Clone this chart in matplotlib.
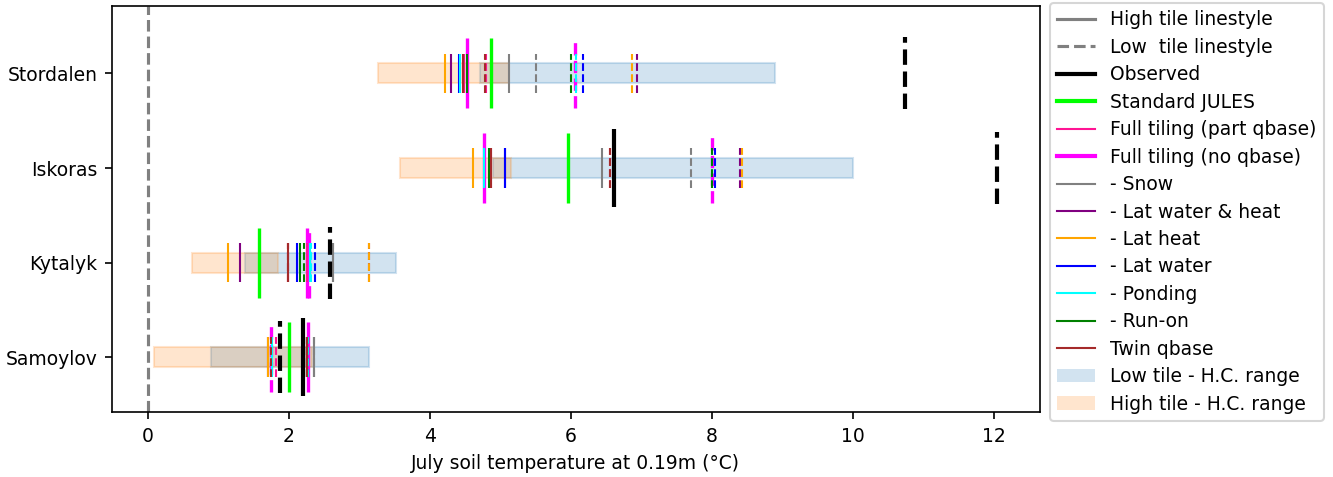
'''
July soil temperature at 0.19m: observed vs JULES tiling experiments,
high tile (solid) and low tile (dashed) per site.
'''

import numpy as np
import matplotlib.pyplot as plt
from matplotlib.lines import Line2D
from matplotlib.patches import Patch

nan = np.nan

# sites, bottom to top
sites = ['Samoylov', 'Kytalyk', 'Iskoras', 'Stordalen']

# hydraulic-conductivity ranges (min, max) per site
low_range_min = [0.89, 1.38, 4.89, 4.71]
low_range_max = [3.14, 3.52, 10.00, 8.89]
high_range_min = [0.09, 0.62, 3.57, 3.27]
high_range_max = [2.33, 1.85, 5.15, 5.12]

observed_high = [2.20, nan, 6.61, nan]
observed_low = [1.88, 2.58, 12.04, 10.74]

standard_jules = [2.00, 1.57, 5.96, 4.87]

no_qbase_high = [2.27, 2.26, 4.77, 4.52]
no_qbase_low = [1.75, 2.29, 8.00, 6.06]

part_qbase_high = [2.26, 2.25, 4.86, 4.49]
part_qbase_low = [1.82, 1.99, 6.56, 4.79]

snow_high = [2.36, 2.62, 6.44, 5.12]
snow_low = [2.36, 2.62, 7.70, 5.50]

lat_wh_high = [1.70, 1.30, 5.06, 4.30]
lat_wh_low = [2.25, 3.14, 8.40, 6.94]

lat_heat_high = [1.70, 1.14, 4.61, 4.21]
lat_heat_low = [2.25, 3.14, 8.42, 6.87]

lat_water_high = [2.25, 2.11, 5.06, 4.41]
lat_water_low = [2.27, 2.37, 8.05, 6.17]

ponding_high = [1.76, 2.30, 4.77, 4.43]
ponding_low = [2.27, 2.31, 8.00, 6.07]

runon_high = [2.26, 2.16, 4.84, 4.53]
runon_low = [2.25, 2.21, 8.00, 6.00]

twin_high = [2.25, 1.98, 4.86, 4.47]
twin_low = [1.75, 1.99, 6.55, 4.78]


def draw_marks(ax, y, vals, half, color, ls, lw):
    vals = np.array(vals, dtype=float)
    ok = ~np.isnan(vals)
    ax.vlines(vals[ok], y[ok] - half, y[ok] + half, colors=color,
              linestyles=ls, linewidth=lw)


def main():
    plt.rcParams['font.size'] = 9
    fig = plt.figure(figsize=(1333 / 150, 477 / 150), dpi=150)
    ax = fig.add_axes([0.084, 0.136, 0.696, 0.851])

    y = np.arange(len(sites), dtype=float)

    # H.C. range bands
    ax.barh(y, np.subtract(low_range_max, low_range_min), left=low_range_min,
            height=0.21, color='tab:blue', edgecolor='tab:blue', alpha=0.2, lw=1)
    ax.barh(y, np.subtract(high_range_max, high_range_min), left=high_range_min,
            height=0.21, color='tab:orange', edgecolor='tab:orange', alpha=0.2, lw=1)

    ax.axvline(0, color='gray', ls='--', lw=1.5)

    thick = 0.37
    thin = 0.21

    draw_marks(ax, y, standard_jules, thick, 'lime', '-', 1.6)
    draw_marks(ax, y, no_qbase_high, thick, 'magenta', '-', 1.6)
    draw_marks(ax, y, no_qbase_low, thick, 'magenta', '--', 1.6)

    thin_models = [
        (part_qbase_high, part_qbase_low, 'deeppink'),
        (snow_high, snow_low, 'gray'),
        (lat_wh_high, lat_wh_low, 'purple'),
        (lat_heat_high, lat_heat_low, 'orange'),
        (lat_water_high, lat_water_low, 'blue'),
        (ponding_high, ponding_low, 'cyan'),
        (runon_high, runon_low, 'green'),
        (twin_high, twin_low, 'brown'),
    ]
    for hi, lo, c in thin_models:
        draw_marks(ax, y, hi, thin, c, '-', 1.0)
        draw_marks(ax, y, lo, thin, c, '--', 1.0)

    draw_marks(ax, y, observed_high, 0.41, 'black', '-', 2.0)
    draw_marks(ax, y, observed_low, 0.38, 'black', '--', 2.0)

    ax.set_yticks(y)
    ax.set_yticklabels(sites)
    ax.set_xticks(np.arange(0, 13, 2))
    ax.set_xlim(-0.51, 12.65)
    ax.set_ylim(-0.58, 3.71)
    ax.set_xlabel('July soil temperature at 0.19m (°C)')

    handles = [
        Line2D([], [], color='gray', ls='-', lw=1.5, label='High tile linestyle'),
        Line2D([], [], color='gray', ls='--', lw=1.5, label='Low  tile linestyle'),
        Line2D([], [], color='black', lw=2.0, label='Observed'),
        Line2D([], [], color='lime', lw=2.0, label='Standard JULES'),
        Line2D([], [], color='deeppink', lw=1.0, label='Full tiling (part qbase)'),
        Line2D([], [], color='magenta', lw=2.0, label='Full tiling (no qbase)'),
        Line2D([], [], color='gray', lw=1.0, label='- Snow'),
        Line2D([], [], color='purple', lw=1.0, label='- Lat water & heat'),
        Line2D([], [], color='orange', lw=1.0, label='- Lat heat'),
        Line2D([], [], color='blue', lw=1.0, label='- Lat water'),
        Line2D([], [], color='cyan', lw=1.0, label='- Ponding'),
        Line2D([], [], color='green', lw=1.0, label='- Run-on'),
        Line2D([], [], color='brown', lw=1.0, label='Twin qbase'),
        Patch(facecolor='tab:blue', alpha=0.2, label='Low tile - H.C. range'),
        Patch(facecolor='tab:orange', alpha=0.2, label='High tile - H.C. range'),
    ]
    ax.legend(handles=handles, loc='upper left', bbox_to_anchor=(1.011, 1.008),
              borderaxespad=0, labelspacing=0.45)

    fig.savefig('out.png', dpi=150)


if __name__ == '__main__':
    main()
